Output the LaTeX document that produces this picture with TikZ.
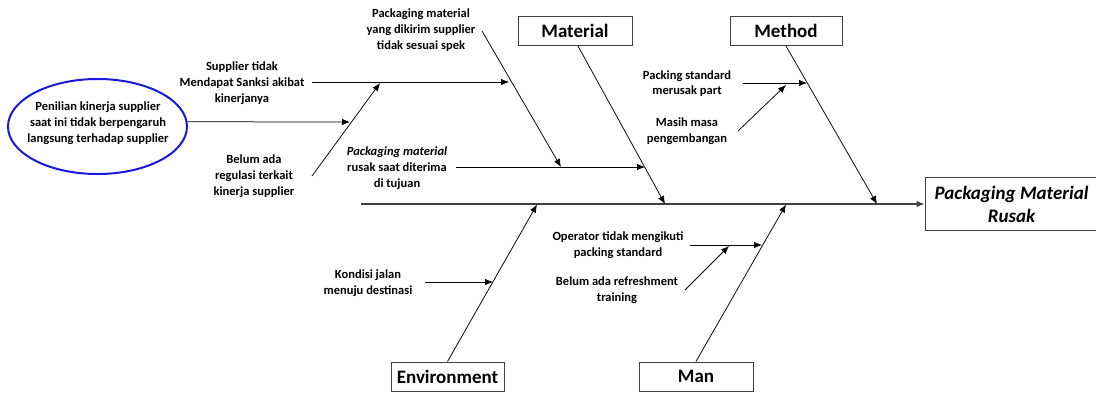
\documentclass[tikz,border=0pt]{standalone}
\usepackage{fontspec}
\setmainfont{Carlito}
\usetikzlibrary{arrows.meta,shapes.geometric}
\definecolor{ellblue}{RGB}{25,25,220}
\begin{document}
\begin{tikzpicture}[x=1pt,y=-1pt,
  every node/.style={inner sep=0pt},
  lbl/.style={font=\bfseries\fontsize{12.5}{15.8}\selectfont, align=center},
  cat/.style={draw=black!75, line width=1pt, font=\bfseries\fontsize{19}{20}\selectfont, minimum height=29pt},
  bone/.style={line width=0.75pt, -{Latex[length=8pt,width=6.5pt]}},
  spine/.style={line width=1.2pt, draw=black!75, -{Latex[length=8pt,width=6.5pt]}}]
\useasboundingbox (0,0) rectangle (1096,392);

% category boxes and effect
\node[cat, minimum width=114pt] (material) at (575,31) {Material};
\node[cat, minimum width=112pt] (method) at (786,31) {Method};
\node[cat, minimum width=113pt] (env) at (447.5,376.5) {Environment};
\node[cat, minimum width=114pt] (man) at (696,376.5) {Man};
\node[draw=black!75, line width=1pt, minimum width=173pt, minimum height=53pt,
      font=\bfseries\itshape\fontsize{19}{23}\selectfont, align=center]
      (effect) at (1011.5,204) {Packaging Material\\Rusak};

% spine
\coordinate (tail) at (361,204);
\draw[spine] (tail) -- (effect.west);

% junctions on spine
\coordinate (matJ) at (665,204);
\coordinate (metJ) at (877,204);
\coordinate (envJ) at (537,204.5);
\coordinate (manJ) at (786,204.5);
\coordinate (matS) at (578,46);
\draw[bone] (matS) -- (matJ);
\draw[bone] (method.south) -- (metJ);
\draw[bone] (env.north) -- (envJ);
\draw[bone] (man.north) -- (manJ);

% root-cause ellipse
\node[ellipse, draw=ellblue, line width=2pt, minimum width=179pt, minimum height=95pt] (ell) at (97.5,126.5) {};
\node[lbl] (elltxt) at (98,123) {Penilian kinerja supplier\\saat ini tidak berpengaruh\\langsung terhadap supplier};

% material sub-causes
\node[lbl] (p1) at (421,30) {Packaging material\\yang dikirim supplier\\tidak sesuai spek};
\coordinate (p1s) at (482,31);
\coordinate (p1J) at (561,167);
\draw[bone] (p1s) -- (p1J);

\node[lbl] (p2) at (397,168) {\textit{Packaging material}\\rusak saat diterima\\di tujuan};
\coordinate (p2s) at (456,167);
\coordinate (p2J) at (645,167);
\draw[bone] (p2s) -- (p2J);

\node[lbl] (s1) at (242,83) {Supplier tidak\\Mendapat Sanksi akibat\\kinerjanya};
\coordinate (s1s) at (312,82);
\coordinate (s1J) at (509,82);
\draw[bone] (s1s) -- (s1J);

\node[lbl] (b1) at (254,176) {Belum ada\\regulasi terkait\\kinerja supplier};
\coordinate (b1s) at (312,176);
\coordinate (b1J) at (380,83);
\draw[bone] (b1s) -- (b1J);

\coordinate (ellJ) at (350,122);
\draw[bone] (ell.3) -- (ellJ);

% method sub-causes
\node[lbl] (m1) at (687,83.5) {Packing standard\\merusak part};
\coordinate (m1s) at (743,83);
\coordinate (m1J) at (807,83);
\draw[bone] (m1s) -- (m1J);

\node[lbl] (m2) at (687,131.5) {Masih masa\\pengembangan};
\coordinate (m2s) at (738,131);
\coordinate (m2J) at (786,85);
\draw[bone] (m2s) -- (m2J);

% environment sub-cause
\node[lbl] (e1) at (368,283) {Kondisi jalan\\menuju destinasi};
\coordinate (e1s) at (425,282);
\coordinate (e1J) at (493,282);
\draw[bone] (e1s) -- (e1J);

% man sub-causes
\node[lbl] (n1) at (618,245.5) {Operator tidak mengikuti\\packing standard};
\coordinate (n1s) at (690,245);
\coordinate (n1J) at (762,245);
\draw[bone] (n1s) -- (n1J);

\node[lbl] (n2) at (617,290.5) {Belum ada refreshment\\training};
\coordinate (n2s) at (685,290);
\coordinate (n2J) at (729,246);
\draw[bone] (n2s) -- (n2J);
\end{tikzpicture}
\end{document}
